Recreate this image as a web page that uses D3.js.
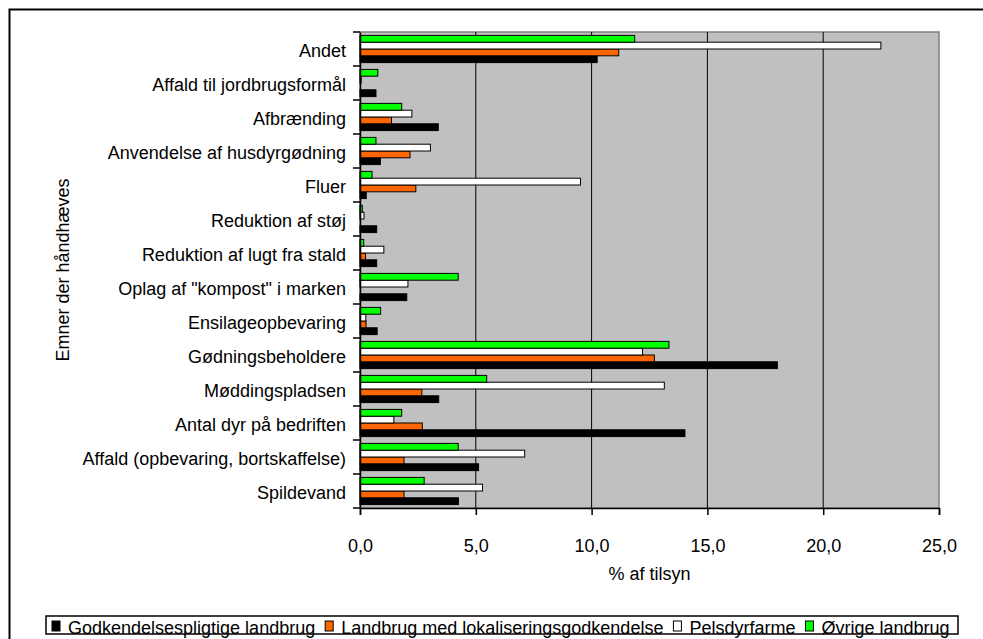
<!DOCTYPE html>
<html><head><meta charset="utf-8">
<script src="https://cdn.jsdelivr.net/npm/d3@7"></script>
<style>
html,body{margin:0;padding:0;background:#fff;}
svg{display:block;font-family:"Liberation Sans",Arial,sans-serif;}
</style></head>
<body>
<svg id="chart" width="983" height="639"></svg>
<script>
const categories = [
  "Andet",
  "Affald til jordbrugsformål",
  "Afbrænding",
  "Anvendelse af husdyrgødning",
  "Fluer",
  "Reduktion af støj",
  "Reduktion af lugt fra stald",
  "Oplag af \"kompost\" i marken",
  "Ensilageopbevaring",
  "Gødningsbeholdere",
  "Møddingspladsen",
  "Antal dyr på bedriften",
  "Affald (opbevaring, bortskaffelse)",
  "Spildevand"
];
const seriesNames = ["Godkendelsespligtige landbrug","Landbrug med lokaliseringsgodkendelse","Pelsdyrfarme","Øvrige landbrug"];
const seriesColors = ["#000000","#ff6600","#ffffff","#00ff00"];
const godkendelsespligtige = [10.24,0.69,3.38,0.88,0.27,0.72,0.72,2.02,0.74,18.02,3.40,14.03,5.12,4.25];
const lokalisering        = [11.17,0.00,1.36,2.16,2.41,0.00,0.24,0.00,0.26,12.71,2.67,2.69,1.90,1.90];
const pelsdyrfarme        = [22.49,0.05,2.24,3.04,9.52,0.17,1.03,2.07,0.25,12.20,13.14,1.46,7.11,5.29];
const oevrige             = [11.86,0.77,1.80,0.69,0.52,0.10,0.16,4.24,0.89,13.34,5.47,1.80,4.24,2.77];
const seriesValues = [godkendelsespligtige, lokalisering, pelsdyrfarme, oevrige];
const xTicks = [0,5,10,15,20,25];
const xTitle = "% af tilsyn";
const yTitle = "Emner der håndhæves";

const svg = d3.select("#chart");
const font = 18;
const L = 360, R = 939, T = 32, B = 508;

// outer chart border (right/bottom out of view)
svg.append("rect").attr("x",9.5).attr("y",9.5).attr("width",1000).attr("height",700)
  .attr("fill","none").attr("stroke","#000").attr("stroke-width",2);

const x = d3.scaleLinear().domain([0,25]).range([L,R]);
const y0 = d3.scaleBand().domain(categories).range([T,B]).padding(0);
const y1 = d3.scaleBand().domain([3,2,1,0]).range([0,y0.bandwidth()]).paddingInner(0).paddingOuter(0.5);

// plot background
svg.append("rect").attr("x",L).attr("y",T).attr("width",R-L).attr("height",B-T)
  .attr("fill","#c0c0c0").attr("stroke","#808080").attr("stroke-width",1.5);

// gridlines
svg.append("g").selectAll("line").data(xTicks.filter(d=>d>0&&d<25)).join("line")
  .attr("x1",d=>x(d)).attr("x2",d=>x(d)).attr("y1",T).attr("y2",B)
  .attr("stroke","#000").attr("stroke-width",1);

// bars
const g = svg.append("g");
categories.forEach((c,i)=>{
  seriesValues.forEach((vals,s)=>{
    const v = vals[i];
    if (v<=0) return;
    g.append("rect")
      .attr("x",x(0)).attr("y",y0(c)+y1(s))
      .attr("width",x(v)-x(0)).attr("height",y1.bandwidth())
      .attr("fill",seriesColors[s]).attr("stroke","#000").attr("stroke-width",1);
  });
});

// y axis
const yAxis = d3.axisLeft(y0).tickSize(0).tickPadding(14).tickFormat(d=>d);
const ya = svg.append("g").attr("transform",`translate(${L},0)`).call(yAxis);
ya.select(".domain").attr("stroke","#000").attr("stroke-width",1.5);
ya.selectAll("text").attr("font-size",font).attr("fill","#000").attr("font-family","Liberation Sans, Arial, sans-serif").attr("dy","0.45em");
// boundary ticks
const bounds = categories.map(c=>y0(c)).concat([B]);
svg.append("g").selectAll("line").data(bounds).join("line")
  .attr("x1",L-7).attr("x2",L).attr("y1",d=>d).attr("y2",d=>d).attr("stroke","#000").attr("stroke-width",1.5);

// x axis
const xAxis = d3.axisBottom(x).tickValues(xTicks).tickSize(7).tickPadding(24)
  .tickFormat(d=>d3.format(".1f")(d).replace(".",","));
const xa = svg.append("g").attr("transform",`translate(0,${B})`).call(xAxis);
xa.select(".domain").attr("stroke","#000").attr("stroke-width",1.5);
xa.selectAll(".tick line").attr("stroke","#000").attr("stroke-width",1.5);
xa.selectAll("text").attr("font-size",font).attr("fill","#000").attr("font-family","Liberation Sans, Arial, sans-serif");

// titles
svg.append("text").attr("x",(L+R)/2).attr("y",580).attr("text-anchor","middle")
  .attr("font-size",font).text(xTitle);
svg.append("text").attr("transform",`translate(69,${(T+B)/2}) rotate(-90)`).attr("text-anchor","middle")
  .attr("font-size",font).text(yTitle);

// legend
const lg = svg.append("g");
const legTop = 616;
lg.append("rect").attr("x",46).attr("y",legTop).attr("width",912).attr("height",18)
  .attr("fill","#fff").attr("stroke","#000").attr("stroke-width",1.5);
let cx = 52;
seriesNames.forEach((n,i)=>{
  lg.append("rect").attr("x",cx).attr("y",legTop+5).attr("width",8).attr("height",10)
    .attr("fill",seriesColors[i]).attr("stroke","#000").attr("stroke-width",1);
  const t = lg.append("text").attr("x",cx+16).attr("y",legTop+18).attr("font-size",font).text(n);
  const w = t.node().getComputedTextLength();
  cx = cx + 16 + w + 10;
});
</script>
</body></html>
